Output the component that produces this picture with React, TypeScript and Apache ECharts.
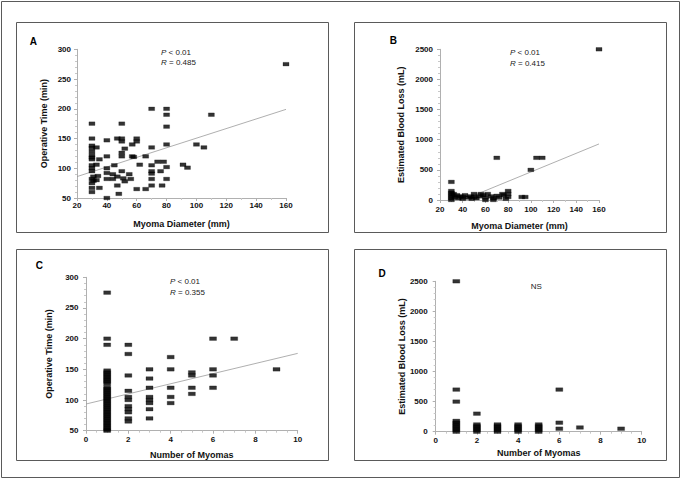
import React, { useEffect, useRef } from "react";
import * as echarts from "echarts";

// Panel A: operative time (min) vs myoma diameter (mm)
const timeVsDiameter: [number, number][] = [
  [160, 275],
  [70, 200], [80, 200], [80, 190], [110, 190],
  [30, 175], [50, 175], [80, 170],
  [30, 150], [40, 147], [47, 150], [50, 150], [50, 145], [60, 150], [60, 145], [57, 140], [80, 140], [100, 140], [105, 135],
  [70, 135], [30, 138], [30, 134], [33, 135], [52, 133],
  [30, 128], [30, 122], [30, 118], [30, 115], [35, 115], [40, 120], [50, 126], [50, 120], [57, 120], [58, 119], [66, 120],
  [30, 105], [33, 106], [45, 105], [62, 106], [70, 105], [74, 111], [78, 111], [80, 102], [91, 106], [94, 101],
  [30, 100], [30, 95], [40, 100], [40, 92], [50, 95], [55, 90], [70, 95], [70, 91], [76, 95],
  [31, 86], [34, 87], [40, 82], [44, 90], [47, 86], [51, 83], [52, 78], [56, 82], [30, 82], [30, 75], [31, 79], [33, 80],
  [44, 82], [47, 71], [70, 82], [80, 82],
  [30, 67], [30, 60], [35, 67], [77, 71], [70, 71], [48, 57], [40, 50], [60, 65], [66, 65],
];
const fitA: [number, number][] = [[20, 86], [160, 199]];

// Panel B: estimated blood loss (mL) vs myoma diameter (mm)
const lossVsDiameter: [number, number][] = [
  [160, 2500], [70, 700], [105, 700], [110, 700], [100, 500], [30, 300],
  [30, 150], [30, 120], [30, 90], [30, 60], [30, 30], [30, 0],
  [32, 100], [33, 50], [35, 80], [36, 30], [38, 60], [40, 50], [40, 20], [42, 80], [45, 40], [47, 60], [48, 20],
  [50, 100], [50, 50], [52, 30], [55, 60], [56, 100], [58, 80], [60, 40], [60, 0], [62, 100], [65, 60], [67, 30],
  [67, 0], [70, 70], [72, 40], [75, 100], [76, 80], [78, 20], [80, 150], [80, 100], [80, 50], [92, 50], [95, 50],
];
const fitB: [number, number][] = [[40, 0], [160, 930]];

// Panel C: operative time (min) vs number of myomas
const timeVsCount: [number, number][] = [
  [1, 275], [1, 200], [1, 190],
  [1, 148], [1, 145], [1, 142], [1, 139], [1, 136], [1, 133], [1, 130], [1, 127],
  [1, 121], [1, 118], [1, 115], [1, 112], [1, 109], [1, 106], [1, 103], [1, 100], [1, 97], [1, 94], [1, 91],
  [1, 88], [1, 85], [1, 82], [1, 79], [1, 76], [1, 73], [1, 70], [1, 67], [1, 64], [1, 61], [1, 58], [1, 55], [1, 52], [1, 50],
  [2, 190], [2, 175], [2, 140], [2, 115], [2, 105], [2, 100], [2, 90], [2, 85], [2, 80], [2, 70], [2, 65],
  [3, 150], [3, 135], [3, 120], [3, 105], [3, 100], [3, 95], [3, 85], [3, 70],
  [4, 170], [4, 150], [4, 120], [4, 105], [4, 95],
  [5, 145], [5, 140], [5, 120], [5, 110],
  [6, 200], [6, 150], [6, 140], [6, 120],
  [7, 200],
  [9, 150],
];
const fitC: [number, number][] = [[0, 93.5], [10, 176]];

// Panel D: estimated blood loss (mL) vs number of myomas
const lossVsCount: [number, number][] = [
  [1, 2500], [1, 700], [1, 500], [1, 180], [1, 150], [1, 120], [1, 90], [1, 60], [1, 30], [1, 0],
  [2, 300], [2, 120], [2, 90], [2, 60], [2, 30], [2, 0],
  [3, 120], [3, 90], [3, 60], [3, 30], [3, 0],
  [4, 120], [4, 90], [4, 60], [4, 30], [4, 0],
  [5, 120], [5, 90], [5, 60], [5, 30], [5, 0],
  [6, 700], [6, 150], [6, 50],
  [7, 70],
  [9, 50],
];

const xTitles = ["Myoma Diameter (mm)", "Myoma Diameter (mm)", "Number of Myomas", "Number of Myomas"];
const yTitles = ["Operative Time (min)", "Estimated Blood Loss (mL)", "Operative Time (min)", "Estimated Blood Loss (mL)"];
const panelLetters = ["A", "B", "C", "D"];

const FONT = "'Liberation Sans', Arial, Helvetica, sans-serif";

export default function App() {
  const ref = useRef<HTMLDivElement>(null);
  useEffect(() => {
    if (!ref.current) return;
    const chart = echarts.init(ref.current, undefined, { renderer: "svg" });

    const grids = [
      { left: 77, top: 49.3, width: 209, height: 148.7 },
      { left: 440, top: 49.3, width: 159, height: 150.7 },
      { left: 86, top: 277.3, width: 211.7, height: 153.4 },
      { left: 435.7, top: 281.3, width: 206, height: 150.4 },
    ];
    const xRanges = [
      { min: 20, max: 160, interval: 20, minor: 2 },
      { min: 20, max: 160, interval: 20, minor: 2 },
      { min: 0, max: 10, interval: 2, minor: 4 },
      { min: 0, max: 10, interval: 2, minor: 4 },
    ];
    const yRanges = [
      { min: 50, max: 300, interval: 50, minor: 5 },
      { min: 0, max: 2500, interval: 500, minor: 5 },
      { min: 50, max: 300, interval: 50, minor: 5 },
      { min: 0, max: 2500, interval: 500, minor: 5 },
    ];
    const xNameGap = [21, 21, 20, 16.5];
    const yNameGap = [29, 35, 32.7, 27.7];
    const xLabelMargin = [3.5, 5, 5, 5];
    const yLabelMargin = [6, 7, 7.5, 8];

    const axisLine = { lineStyle: { color: "#b0b0b0", width: 1 } };
    const axisTick = { length: 3, lineStyle: { color: "#b0b0b0" } };
    const minorTick = (n: number) => ({ show: true, splitNumber: n, length: 2, lineStyle: { color: "#c8c8c8" } });
    const labelStyle = {
      color: "#111",
      fontSize: 8,
      fontWeight: "bold" as const,
      fontFamily: FONT,
      formatter: (v: number) => String(v),
    };
    const nameStyle = { color: "#111", fontSize: 9, fontWeight: "bold" as const, fontFamily: FONT };

    const xAxis = xRanges.map((r, i) => ({
      type: "value" as const,
      gridIndex: i,
      min: r.min,
      max: r.max,
      interval: r.interval,
      name: xTitles[i],
      nameLocation: "middle" as const,
      nameGap: xNameGap[i],
      nameTextStyle: nameStyle,
      axisLine: { show: true, onZero: false, ...axisLine },
      axisTick,
      minorTick: minorTick(r.minor),
      axisLabel: { ...labelStyle, margin: xLabelMargin[i] },
      splitLine: { show: false },
    }));
    const yAxis = yRanges.map((r, i) => ({
      type: "value" as const,
      gridIndex: i,
      min: r.min,
      max: r.max,
      interval: r.interval,
      name: yTitles[i],
      nameLocation: "middle" as const,
      nameGap: yNameGap[i],
      nameTextStyle: nameStyle,
      axisLine: { show: true, onZero: false, ...axisLine },
      axisTick,
      minorTick: minorTick(r.minor),
      axisLabel: { ...labelStyle, margin: yLabelMargin[i] },
      splitLine: { show: false },
    }));

    const scatter = (data: [number, number][], i: number, size: number[]) => ({
      type: "scatter" as const,
      xAxisIndex: i,
      yAxisIndex: i,
      data,
      symbol: "rect",
      symbolSize: size,
      itemStyle: { color: "#000", borderColor: "#000", borderWidth: 0.3 },
      z: 3,
    });
    const fit = (data: [number, number][], i: number) => ({
      type: "line" as const,
      xAxisIndex: i,
      yAxisIndex: i,
      data,
      symbol: "none",
      lineStyle: { color: "#9a9a9a", width: 0.8 },
      z: 2,
    });

    const border = (x: number, y: number, w: number, h: number) => ({
      type: "rect" as const,
      shape: { x, y, width: w, height: h },
      style: { fill: "none", stroke: "#5a5a5a", lineWidth: 1 },
      silent: true,
    });
    const letterPos = [
      [33.3, 41.7],
      [393.3, 40.7],
      [39.3, 265.3],
      [382, 273.3],
    ];
    const note = (x: number, y: number, text: string) => ({
      type: "text" as const,
      x,
      y,
      style: {
        text,
        fontSize: 8,
        fontFamily: FONT,
        fill: "#222",
        verticalAlign: "middle",
        align: "left",
        rich: { i: { fontStyle: "italic", fontSize: 8, fontFamily: FONT, fill: "#222" } },
      },
      silent: true,
    });

    chart.setOption({
      animation: false,
      backgroundColor: "#fff",
      grid: grids.map((g) => ({ ...g, containLabel: false })),
      xAxis,
      yAxis,
      series: [
        scatter(timeVsDiameter, 0, [6, 3.6]),
        fit(fitA, 0),
        scatter(lossVsDiameter, 1, [6, 3.6]),
        fit(fitB, 1),
        scatter(timeVsCount, 2, [7, 3.6]),
        fit(fitC, 2),
        scatter(lossVsCount, 3, [7, 3.6]),
      ],
      graphic: [
        border(1.5, 1.5, 678, 476),
        border(16.5, 22.5, 312, 210),
        border(354.5, 22.5, 312, 210),
        border(16.5, 249.5, 312, 211),
        border(354.5, 249.5, 312, 211),
        ...panelLetters.map((l, i) => ({
          type: "text" as const,
          x: letterPos[i][0],
          y: letterPos[i][1],
          style: {
            text: l,
            fontSize: 10,
            fontWeight: "bold",
            fontFamily: FONT,
            fill: "#000",
            align: "center",
            verticalAlign: "middle",
          },
          silent: true,
        })),
        note(161, 52.7, "{i|P} < 0.01"),
        note(161, 62.3, "{i|R} = 0.485"),
        note(510, 52.7, "{i|P} < 0.01"),
        note(510, 63.3, "{i|R} = 0.415"),
        note(170, 281.7, "{i|P} < 0.01"),
        note(170, 292.7, "{i|R} = 0.355"),
        note(530.7, 286.7, "NS"),
      ],
    });
    return () => chart.dispose();
  }, []);
  return (
    <div
      ref={ref}
      style={{ position: "absolute", left: 0, top: 0, width: 684, height: 479, background: "#fff" }}
    />
  );
}
